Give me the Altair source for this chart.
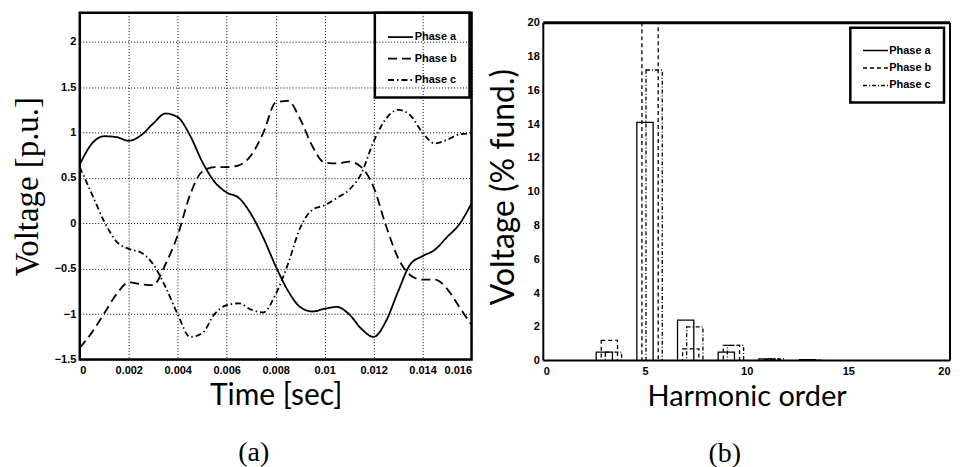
import altair as alt
import pandas as pd

# ---------------- Panel (a): phase voltages ----------------
time_s = [0.0, 0.0005, 0.001, 0.0015, 0.002, 0.0025, 0.003, 0.0035, 0.004, 0.0045,
          0.005, 0.0055, 0.006, 0.0065, 0.007, 0.0075, 0.008, 0.0085, 0.009, 0.0095,
          0.010, 0.0105, 0.011, 0.0115, 0.012, 0.0125, 0.013, 0.0135, 0.014, 0.0145,
          0.015, 0.0155, 0.016]
volt_a = [0.65, 0.88, 0.96, 0.95, 0.91, 0.97, 1.10, 1.21, 1.17, 0.97,
          0.68, 0.46, 0.34, 0.28, 0.10, -0.16, -0.47, -0.74, -0.92, -0.97,
          -0.94, -0.92, -1.00, -1.16, -1.25, -1.08, -0.75, -0.45, -0.36, -0.29,
          -0.15, -0.01, 0.22]
volt_b = [-1.37, -1.20, -0.99, -0.78, -0.65, -0.67, -0.68, -0.45, -0.13, 0.31,
          0.57, 0.62, 0.62, 0.64, 0.75, 1.00, 1.33, 1.35, 1.15, 0.85,
          0.67, 0.66, 0.68, 0.62, 0.40, -0.02, -0.38, -0.57, -0.62, -0.62,
          -0.72, -0.92, -1.12]
volt_c = [0.62, 0.32, 0.02, -0.20, -0.28, -0.32, -0.45, -0.70, -1.00, -1.25,
          -1.21, -1.00, -0.90, -0.88, -0.95, -0.98, -0.78, -0.45, -0.05, 0.15,
          0.20, 0.28, 0.37, 0.55, 0.90, 1.15, 1.25, 1.19, 1.00, 0.88,
          0.92, 0.98, 0.99]
phases = ["Phase a", "Phase b", "Phase c"]

x_ticks_a = [0, 0.002, 0.004, 0.006, 0.008, 0.010, 0.012, 0.014, 0.016]
y_ticks_a = [-1.5, -1, -0.5, 0, 0.5, 1, 1.5, 2]

# ---------------- Panel (b): harmonic spectrum ----------------
harmonic = [3, 5, 7, 9, 11, 13]
harm_a = [0.5, 14.1, 2.4, 0.5, 0.10, 0.05]
harm_b = [1.2, 20.0, 0.7, 0.9, 0.05, 0.02]
harm_c = [0.5, 17.2, 2.0, 0.9, 0.10, 0.02]
bar_offset = {"Phase a": 0.0, "Phase b": 0.25, "Phase c": 0.45}
bar_width = 0.8

x_ticks_b = [0, 5, 10, 15, 20]
y_ticks_b = [0, 2, 4, 6, 8, 10, 12, 14, 16, 18, 20]

# ---------------- tables ----------------
wave = pd.DataFrame({
    "t": time_s * 3,
    "v": volt_a + volt_b + volt_c,
    "phase": [p for p in phases for _ in time_s],
})

rows = []
for p, vals in zip(phases, [harm_a, harm_b, harm_c]):
    for h, v in zip(harmonic, vals):
        c = h + bar_offset[p]
        rows.append({"phase": p, "x0": c - bar_width / 2, "x1": c + bar_width / 2, "v": v, "base": 0.0})
spec = pd.DataFrame(rows)

sym_path = "M-1,0H3"

# ---------------- chart (a) ----------------
left = alt.Chart(wave).mark_line(color="black", strokeWidth=1.8, interpolate="monotone").encode(
    x=alt.X("t:Q",
            scale=alt.Scale(domain=[0, 0.016], nice=False, zero=False),
            axis=alt.Axis(values=x_ticks_a, format="~g", title="Time [sec]",
                          grid=True, ticks=False, domain=False, labelPadding=5,
                          labelOverlap=False,
                          titleFont="Lato", titleFontSize=30, titlePadding=5)),
    y=alt.Y("v:Q",
            scale=alt.Scale(domain=[-1.5, 2.32], nice=False, zero=False),
            axis=alt.Axis(values=y_ticks_a, format="~g", title="Voltage [p.u.]",
                          grid=True, ticks=False, domain=False, labelPadding=4,
                          labelOverlap=False,
                          titleFont="Liberation Serif", titleFontSize=33, titlePadding=10)),
    strokeDash=alt.StrokeDash("phase:N",
        scale=alt.Scale(domain=phases, range=[[1, 0], [9, 5], [6, 3, 1.5, 3]]),
        legend=alt.Legend(orient="none", legendX=296, legendY=0, title=" ",
                          titleFontSize=5, titlePadding=0, padding=12, rowPadding=8.5,
                          symbolType=sym_path, symbolSize=156, symbolStrokeWidth=1.8,
                          symbolStrokeColor="black", labelOffset=13,
                          labelExpr="datum.label + '            '",
                          strokeColor="black")),
).properties(
    width=393, height=348,
    view=alt.ViewBackground(stroke="black", strokeWidth=2.5),
    title=alt.TitleParams("(a)", orient="bottom", anchor="middle", dx=-22, offset=29,
                          font="Liberation Serif", fontSize=28, fontWeight="normal"),
)

# ---------------- chart (b) ----------------
x_axis_b = alt.Axis(values=x_ticks_b, title="Harmonic order", grid=False,
                    ticks=False, domain=False, labelPadding=5, labelOverlap=False,
                    titleFont="Lato", titleFontSize=29, titlePadding=6)
y_axis_b = alt.Axis(values=y_ticks_b, title="Voltage (% fund.)", grid=False,
                    ticks=False, domain=False, labelPadding=4, labelOverlap=False,
                    titleFont="Lato", titleFontSize=32, titlePadding=7)
x_scale_b = alt.Scale(domain=[0, 20], nice=False, zero=False)
y_scale_b = alt.Scale(domain=[0, 20.59], nice=False, zero=True)

bars = alt.Chart(spec).mark_bar(fill="transparent", stroke="black",
                                strokeWidth=1.3, clip=True).encode(
    x=alt.X("x0:Q", scale=x_scale_b, axis=x_axis_b),
    x2="x1:Q",
    y=alt.Y("v:Q", scale=y_scale_b, axis=y_axis_b),
    y2="base:Q",
    strokeDash=alt.StrokeDash("phase:N",
        scale=alt.Scale(domain=phases, range=[[1, 0], [4, 3], [4, 2, 1, 2]]),
        legend=alt.Legend(orient="none", legendX=308, legendY=15, title=" ",
                          titleFontSize=4, titlePadding=0, padding=12, rowPadding=5.5,
                          symbolType=sym_path, symbolSize=156, symbolStrokeWidth=1.5,
                          symbolStrokeColor="black", symbolFillColor="transparent",
                          labelOffset=13, labelExpr="datum.label + '          '",
                          strokeColor="black")),
)

one = pd.DataFrame({"k": [0]})
frame_top = alt.Chart(one).mark_rule(color="black", strokeWidth=3).encode(
    x=alt.XDatum(0, scale=x_scale_b, axis=x_axis_b), x2=alt.datum(20),
    y=alt.YDatum(20, scale=y_scale_b, axis=y_axis_b))
frame_bottom = alt.Chart(one).mark_rule(color="black", strokeWidth=2).encode(
    x=alt.XDatum(0, scale=x_scale_b, axis=x_axis_b), x2=alt.datum(20),
    y=alt.YDatum(0, scale=y_scale_b, axis=y_axis_b))
frame_left = alt.Chart(one).mark_rule(color="black", strokeWidth=2).encode(
    x=alt.XDatum(0, scale=x_scale_b, axis=x_axis_b),
    y=alt.YDatum(0, scale=y_scale_b, axis=y_axis_b), y2=alt.datum(20))
frame_right = alt.Chart(one).mark_rule(color="black", strokeWidth=2).encode(
    x=alt.XDatum(20, scale=x_scale_b, axis=x_axis_b),
    y=alt.YDatum(0, scale=y_scale_b, axis=y_axis_b), y2=alt.datum(20))

right = alt.layer(bars, frame_top, frame_bottom, frame_left, frame_right).properties(
    width=408, height=349,
    view=alt.ViewBackground(stroke="transparent"),
    title=alt.TitleParams("(b)", orient="bottom", anchor="middle", dx=-22, offset=29,
                          font="Liberation Serif", fontSize=28, fontWeight="normal"),
)

chart = alt.hconcat(left, right, spacing=72, bounds="flush").resolve_scale(
    strokeDash="independent"
).resolve_legend(
    strokeDash="independent"
).properties(
    padding={"left": 2, "top": 1, "right": 0, "bottom": 0},
    background="white",
).configure_axis(
    labelFont="Liberation Sans", labelFontWeight="bold", labelFontSize=11,
    labelColor="black", titleColor="black", titleFontWeight="normal",
    gridColor="black", gridDash=[1, 2], gridOpacity=1, gridWidth=1,
).configure_legend(
    labelFont="Liberation Sans", labelFontWeight="bold", labelFontSize=11,
    labelColor="black", strokeWidth=2.5, fillColor="transparent",
)

chart.save("out.html", embed_options={"renderer": "svg", "actions": False})
